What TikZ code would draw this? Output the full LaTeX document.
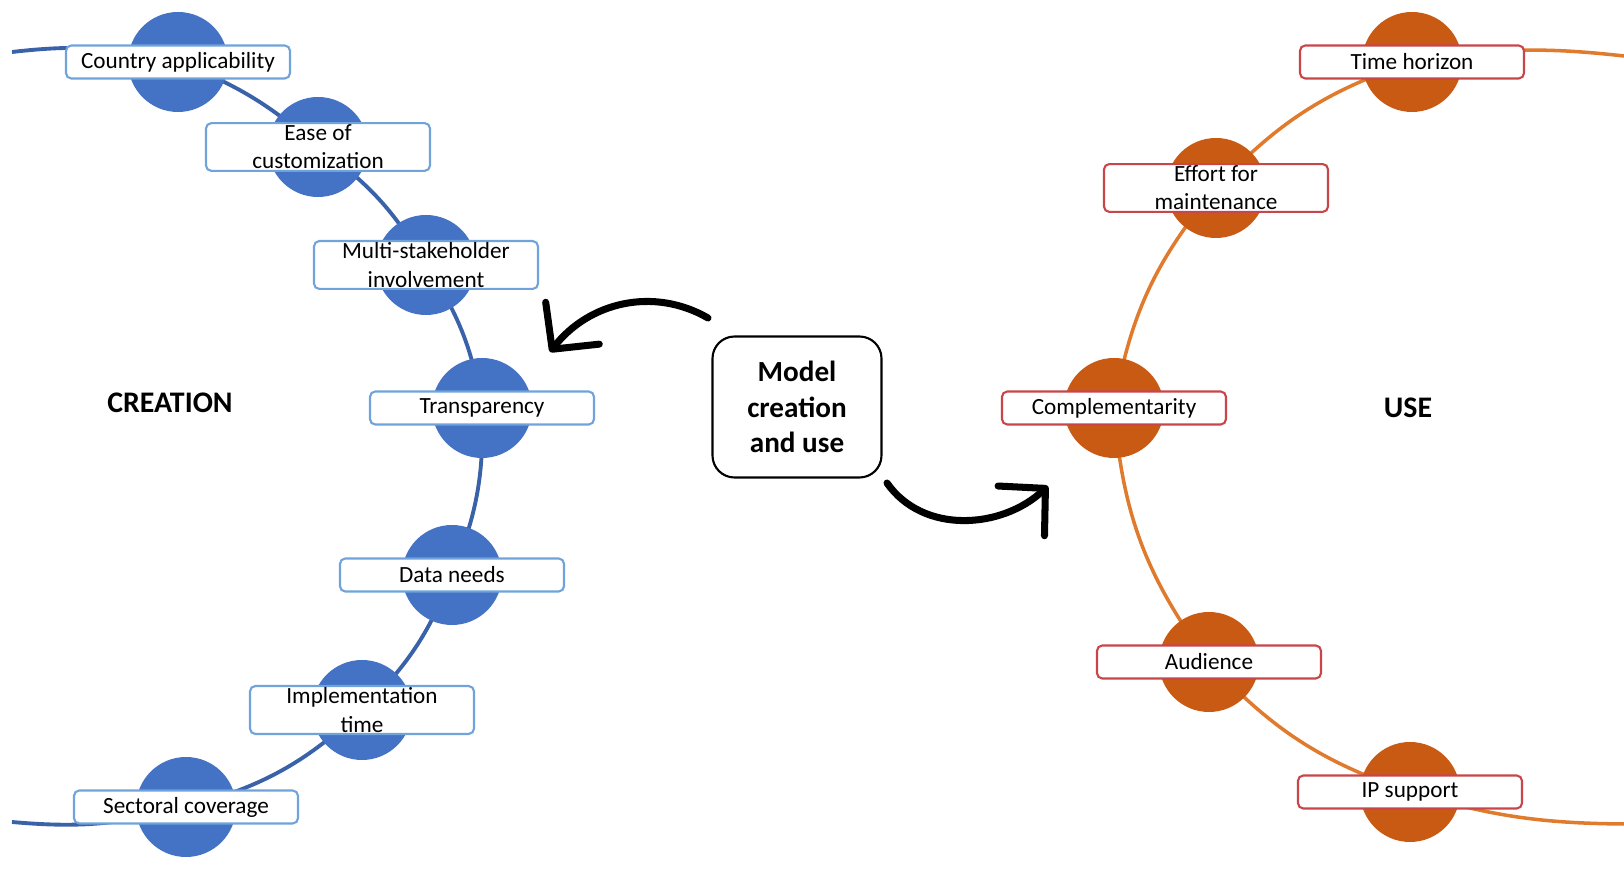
\documentclass[tikz,border=0pt]{standalone}
\usepackage{fontspec}
\setmainfont{Carlito}
\usepackage{tikz}
\usetikzlibrary{arrows.meta}
\definecolor{creafill}{HTML}{4472C4}
\definecolor{crealine}{HTML}{3A62A8}
\definecolor{creaedge}{HTML}{6FA3DA}
\definecolor{usefill}{HTML}{C95A14}
\definecolor{useline}{HTML}{E07A2C}
\definecolor{useedge}{HTML}{C8464A}

\begin{document}
\begin{tikzpicture}[
  creadot/.style={circle, fill=creafill, minimum size=1cm, inner sep=0pt},
  usedot/.style={circle, fill=usefill, minimum size=1cm, inner sep=0pt},
  itembox/.style={draw, fill=white, rounded corners=1.5pt, line width=0.6pt, minimum width=2.24cm, minimum height=0.33cm, inner xsep=1pt, inner ysep=0.5pt, align=center, font=\fontsize{6.6}{8}\selectfont},
  creaitem/.style={itembox, draw=creaedge},
  useitem/.style={itembox, draw=useedge},
  bigarrow/.style={line width=2pt, line cap=round, -{Straight Barb[length=3.3mm,width=6.8mm,round]}}
]
\useasboundingbox (0,0) rectangle (16.24,8.86);

% creation side
\coordinate (btop) at (0.12,8.34);
\coordinate (b1) at (1.78,8.24);
\coordinate (b2) at (3.18,7.39);
\coordinate (b3) at (4.26,6.21);
\coordinate (b4) at (4.82,4.78);
\coordinate (b5) at (4.52,3.11);
\coordinate (b6) at (3.62,1.76);
\coordinate (b7) at (1.86,0.79);
\coordinate (bbot) at (0.12,0.64);
\draw[crealine, line width=1.1pt] (btop) to[bend left=10] (b1) to[bend left=10] (b2) to[bend left=12] (b3) to[bend left=12] (b4) to[bend left=12] (b5) to[bend left=12] (b6) to[bend left=14] (b7) to[bend left=10] (bbot);

\node[creadot] (b1d) at (b1) {};
\node[creadot] (b2d) at (b2) {};
\node[creadot] (b3d) at (b3) {};
\node[creadot] (b4d) at (b4) {};
\node[creadot] (b5d) at (b5) {};
\node[creadot] (b6d) at (b6) {};
\node[creadot] (b7d) at (b7) {};

\node[creaitem] (b1t) at (b1) {Country applicability};
\node[creaitem] (b2t) at (b2) {Ease of\\customization};
\node[creaitem] (b3t) at (b3) {Multi-stakeholder\\involvement};
\node[creaitem] (b4t) at (b4) {Transparency};
\node[creaitem] (b5t) at (b5) {Data needs};
\node[creaitem] (b6t) at (b6) {Implementation\\time};
\node[creaitem] (b7t) at (b7) {Sectoral coverage};

% use side
\coordinate (otop) at (16.24,8.30);
\coordinate (o1) at (14.12,8.24);
\coordinate (o2) at (12.16,6.98);
\coordinate (o3) at (11.14,4.78);
\coordinate (o4) at (12.09,2.24);
\coordinate (o5) at (14.10,0.94);
\coordinate (obot) at (16.24,0.62);
\draw[useline, line width=1pt] (otop) to[bend right=8] (o1) to[bend right=14] (o2) to[bend right=15] (o3) to[bend right=16] (o4) to[bend right=14] (o5) to[bend right=8] (obot);

\node[usedot] (o1d) at (o1) {};
\node[usedot] (o2d) at (o2) {};
\node[usedot] (o3d) at (o3) {};
\node[usedot] (o4d) at (o4) {};
\node[usedot] (o5d) at (o5) {};

\node[useitem] (o1t) at (o1) {Time horizon};
\node[useitem] (o2t) at (o2) {Effort for\\maintenance};
\node[useitem] (o3t) at (o3) {Complementarity};
\node[useitem] (o4t) at (o4) {Audience};
\node[useitem] (o5t) at (o5) {IP support};

% middle
\node[draw, rounded corners=0.22cm, line width=0.6pt, minimum width=1.69cm, minimum height=1.41cm, align=center, font=\fontsize{8.3}{10}\selectfont\bfseries] (model) at (7.97,4.79) {Model\\creation\\and use};
\node[font=\fontsize{8.5}{10}\selectfont\bfseries] (creation) at (1.70,4.83) {CREATION};
\node[font=\fontsize{8.5}{10}\selectfont\bfseries] (usetxt) at (14.08,4.78) {USE};

\coordinate (a1s) at (7.08,5.68);
\coordinate (a1e) at (5.50,5.34);
\coordinate (a2s) at (8.87,4.03);
\coordinate (a2e) at (10.48,4.00);
\draw[bigarrow] (a1s) to[out=150,in=52] (a1e);
\draw[bigarrow] (a2s) to[out=-55,in=223] (a2e);
\end{tikzpicture}
\end{document}
